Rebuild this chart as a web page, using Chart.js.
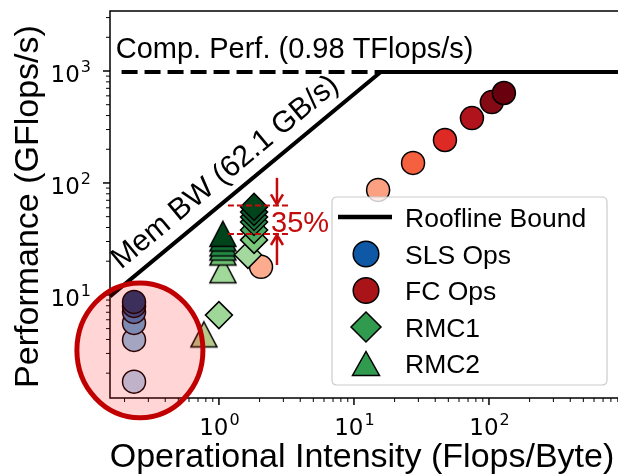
<!DOCTYPE html>
<html><head><meta charset="utf-8">
<style>html,body{margin:0;padding:0;background:#fff;overflow:hidden}#wrap{width:618px;height:474px;position:relative}canvas{display:block}</style>
<script src="https://cdn.jsdelivr.net/npm/chart.js@4.4.1/dist/chart.umd.min.js"></script>
</head><body><div id="wrap"><canvas id="c" width="618" height="474"></canvas></div>
<script>
// ---- axis ranges & tick labels ----
const X_MIN = 0.156, X_MAX = 903;
const Y_MIN = 1.2, Y_MAX = 3435;
const xTickExps = [0, 1, 2];
const yTickExps = [1, 2, 3];

// ---- roofline ----
const roofX = [0.156, 15.78, 903];
const roofY = [9.69, 980, 980];
const compX = [0.19, 15.78];
const compY = [980, 980];

// ---- SLS Ops (circles) ----
const slsX = [0.235, 0.235, 0.235, 0.235, 0.235, 0.235];
const slsY = [1.68, 3.96, 5.62, 7.05, 7.98, 8.66];
const slsColors = ['#b4d5f1', '#91c6e8', '#64a6d6', '#3f7fbc', '#234f8e', '#17396f'];

// ---- FC Ops (circles) ----
const fcX = [2.05, 15.1, 27.4, 47.2, 74.8, 105, 129];
const fcY = [17.8, 86.6, 151, 242, 380, 528, 636];
const fcColors = ['#fcab8f', '#fca082', '#f5603f', '#dd2a25', '#b0131b', '#840a14', '#68000d'];

// ---- RMC1 (diamonds) ----
const rmc1X = [1.0, 1.64, 1.82, 1.82, 1.82, 1.82, 1.82, 1.82];
const rmc1Y = [6.6, 22.8, 31.0, 38.0, 44.8, 49.7, 55.1, 61.1];
const rmc1Colors = ['#9fd799', '#a3d89e', '#7cc87c', '#4daa5f', '#2d8a49', '#18703a', '#0b5a2b', '#00441b'];

// ---- RMC2 (triangles) ----
const rmc2X = [0.774, 1.07, 1.07, 1.07, 1.07, 1.07, 1.07];
const rmc2Y = [4.44, 16.6, 23.9, 26.5, 28.8, 31.9, 35.1];
const rmc2Colors = ['#b7c88b', '#a1d99b', '#6fbf73', '#41ab5d', '#238b45', '#116d33', '#00441b'];

// ---- annotation (35%) ----
const gapLineX = [1.166, 3.36];
const gapUpperY = 63;
const gapLowerY = 35;
const arrowX = 2.69;
const arrowDown = [111, 63];
const arrowUp = [18.5, 35];

// ---- highlight ellipse bounds (data coords) ----
const ellX = [0.0887, 0.761];
const ellY = [0.798, 12.8];

// ---- legend ----
const legendLabels = ['Roofline Bound', 'SLS Ops', 'FC Ops', 'RMC1', 'RMC2'];
const legendColors = ['#000000', '#0f58a5', '#a91419', '#309a4f', '#309a4f'];
const legendKinds = ['line', 'circle', 'circle', 'diamond', 'triangle'];

const FONT = '"Liberation Sans", Arial, Helvetica, sans-serif';
const MATH = '"DejaVu Sans", sans-serif';
const RED = '#c40a0a';

function pts(xs, ys) { return xs.map((x, i) => ({x: x, y: ys[i]})); }

function triImg(color) {
  const c = document.createElement('canvas'); c.width = 30; c.height = 30;
  const g = c.getContext('2d');
  g.beginPath(); g.moveTo(15, 2.5); g.lineTo(28, 27.5); g.lineTo(2, 27.5); g.closePath();
  g.fillStyle = color; g.fill();
  g.lineWidth = 1.5; g.strokeStyle = '#000'; g.stroke();
  return c;
}

function drawPow(ctx, exp, x, y, align) {
  ctx.font = '23px ' + MATH; const w1 = ctx.measureText('10').width;
  ctx.font = '16px ' + MATH; const w2 = ctx.measureText(String(exp)).width;
  const x0 = align === 'center' ? x - (w1 + w2) / 2 : x - (w1 + w2);
  ctx.textAlign = 'left'; ctx.textBaseline = 'alphabetic';
  ctx.font = '23px ' + MATH; ctx.fillText('10', x0, y);
  ctx.font = '16px ' + MATH; ctx.fillText(String(exp), x0 + w1 + 1, y - 10);
}

function arrow(ctx, x, y0, y1) {
  ctx.beginPath(); ctx.moveTo(x, y0); ctx.lineTo(x, y1); ctx.stroke();
  const dir = y1 > y0 ? 1 : -1;
  ctx.beginPath();
  ctx.moveTo(x - 6, y1 - dir * 10); ctx.lineTo(x, y1); ctx.lineTo(x + 6, y1 - dir * 10);
  ctx.stroke();
}

const decor = {
  id: 'decor',
  afterDraw(chart) {
    const ctx = chart.ctx, a = chart.chartArea, xs = chart.scales.x, ys = chart.scales.y;
    ctx.save();
    // spines
    ctx.strokeStyle = '#000'; ctx.lineWidth = 1.5;
    ctx.beginPath();
    ctx.moveTo(a.right + 2, a.top); ctx.lineTo(a.left, a.top); ctx.lineTo(a.left, a.bottom); ctx.lineTo(a.right + 2, a.bottom);
    ctx.stroke();
    // ticks
    for (let d = -2; d <= 4; d++) {
      for (let m = 1; m <= 9; m++) {
        const v = m * Math.pow(10, d);
        const major = m === 1;
        if (v >= X_MIN && v <= X_MAX) {
          const p = xs.getPixelForValue(v);
          ctx.lineWidth = major ? 1.5 : 1;
          ctx.beginPath(); ctx.moveTo(p, a.bottom); ctx.lineTo(p, a.bottom + (major ? 7 : 4)); ctx.stroke();
        }
        if (v >= Y_MIN && v <= Y_MAX) {
          const p = ys.getPixelForValue(v);
          ctx.lineWidth = major ? 1.5 : 1;
          ctx.beginPath(); ctx.moveTo(a.left, p); ctx.lineTo(a.left - (major ? 7 : 4), p); ctx.stroke();
        }
      }
    }
    // tick labels
    ctx.fillStyle = '#000';
    xTickExps.forEach(e => drawPow(ctx, e, xs.getPixelForValue(Math.pow(10, e)), a.bottom + 37, 'center'));
    yTickExps.forEach(e => drawPow(ctx, e, a.left - 20, ys.getPixelForValue(Math.pow(10, e)) + 11, 'right'));
    // axis titles
    ctx.font = '34px ' + FONT; ctx.textAlign = 'center'; ctx.textBaseline = 'alphabetic';
    ctx.fillText('Operational Intensity (Flops/Byte)', 362, 467);
    ctx.save(); ctx.translate(38, (a.top + a.bottom) / 2 + 2); ctx.rotate(-Math.PI / 2);
    ctx.fillText('Performance (GFlops/s)', 0, 0); ctx.restore();
    // compute perf text
    ctx.font = '29px ' + FONT; ctx.textAlign = 'left';
    ctx.fillText('Comp. Perf. (0.98 TFlops/s)', xs.getPixelForValue(0.172), ys.getPixelForValue(1306));
    // mem bw text
    const p1x = xs.getPixelForValue(roofX[0]), p1y = ys.getPixelForValue(roofY[0]);
    const p2x = xs.getPixelForValue(roofX[1]), p2y = ys.getPixelForValue(roofY[1]);
    const ang = Math.atan2(p2y - p1y, p2x - p1x);
    ctx.save(); ctx.translate(xs.getPixelForValue(1.22), ys.getPixelForValue(109)); ctx.rotate(ang);
    ctx.textAlign = 'center'; ctx.font = '30px ' + FONT;
    ctx.fillText('Mem BW (62.1 GB/s)', 0, 0); ctx.restore();
    // 35% annotation
    ctx.fillStyle = RED; ctx.font = '29px ' + FONT; ctx.textAlign = 'left';
    ctx.fillText('35%', xs.getPixelForValue(2.43), ys.getPixelForValue(36.1));
    ctx.strokeStyle = RED; ctx.lineWidth = 2.5; ctx.lineCap = 'butt';
    const ax = xs.getPixelForValue(arrowX);
    arrow(ctx, ax, ys.getPixelForValue(arrowDown[0]), ys.getPixelForValue(arrowDown[1]) - 1);
    arrow(ctx, ax, ys.getPixelForValue(arrowUp[0]), ys.getPixelForValue(arrowUp[1]) + 1);
    // ellipse highlight
    const el = xs.getPixelForValue(ellX[0]), er = xs.getPixelForValue(ellX[1]);
    const eb = ys.getPixelForValue(ellY[0]), et = ys.getPixelForValue(ellY[1]);
    ctx.beginPath();
    ctx.ellipse((el + er) / 2, (et + eb) / 2, (er - el) / 2, (eb - et) / 2, 0, 0, Math.PI * 2);
    ctx.fillStyle = 'rgba(255,0,0,0.165)'; ctx.fill();
    ctx.strokeStyle = '#c00000'; ctx.lineWidth = 5; ctx.stroke();
    // legend
    const bx = 332, by = 197, bw = 275, bh = 188, r = 5;
    ctx.beginPath();
    ctx.moveTo(bx + r, by); ctx.lineTo(bx + bw - r, by); ctx.quadraticCurveTo(bx + bw, by, bx + bw, by + r);
    ctx.lineTo(bx + bw, by + bh - r); ctx.quadraticCurveTo(bx + bw, by + bh, bx + bw - r, by + bh);
    ctx.lineTo(bx + r, by + bh); ctx.quadraticCurveTo(bx, by + bh, bx, by + bh - r);
    ctx.lineTo(bx, by + r); ctx.quadraticCurveTo(bx, by, bx + r, by); ctx.closePath();
    ctx.fillStyle = 'rgba(255,255,255,0.8)'; ctx.fill();
    ctx.strokeStyle = '#cccccc'; ctx.lineWidth = 1.2; ctx.stroke();
    const rowY = [217, 254, 290.5, 327, 363.5];
    const mx = 366;
    legendLabels.forEach((lab, i) => {
      const y = rowY[i];
      ctx.strokeStyle = '#000'; ctx.fillStyle = legendColors[i]; ctx.lineWidth = 1.5;
      const k = legendKinds[i];
      if (k === 'line') {
        ctx.lineWidth = 4.5; ctx.beginPath(); ctx.moveTo(338, y); ctx.lineTo(392, y); ctx.stroke();
      } else if (k === 'circle') {
        ctx.beginPath(); ctx.arc(mx, y, 12.8, 0, Math.PI * 2); ctx.fill(); ctx.stroke();
      } else if (k === 'diamond') {
        ctx.beginPath(); ctx.moveTo(mx, y - 15); ctx.lineTo(mx + 15, y); ctx.lineTo(mx, y + 15); ctx.lineTo(mx - 15, y); ctx.closePath(); ctx.fill(); ctx.stroke();
      } else {
        ctx.beginPath(); ctx.moveTo(mx, y - 12); ctx.lineTo(mx + 13.5, y + 12); ctx.lineTo(mx - 13.5, y + 12); ctx.closePath(); ctx.fill(); ctx.stroke();
      }
      ctx.fillStyle = '#000'; ctx.font = '26.5px ' + FONT; ctx.textAlign = 'left'; ctx.textBaseline = 'alphabetic';
      ctx.fillText(lab, 405, y + 9.5);
    });
    ctx.restore();
  }
};

const lineDs = (xs, ysArr, color, width, dash, order) => ({
  data: pts(xs, ysArr), showLine: true, borderColor: color, borderWidth: width,
  borderDash: dash, pointRadius: 0, fill: false, order: order, tension: 0
});

new Chart(document.getElementById('c'), {
  type: 'scatter',
  data: {
    datasets: [
      lineDs(roofX, roofY, '#000', 4, [], 1),
      lineDs(compX, compY, '#000', 4, [16, 7], 1),
      lineDs(gapLineX, [gapUpperY, gapUpperY], RED, 2, [6, 3], 2),
      lineDs(gapLineX, [gapLowerY, gapLowerY], RED, 2, [6, 3], 2),
      { data: pts(slsX, slsY), pointStyle: 'circle', pointRadius: 11.5, pointBackgroundColor: slsColors,
        pointBorderColor: '#000', pointBorderWidth: 1.5, order: 6 },
      { data: pts(fcX, fcY), pointStyle: 'circle', pointRadius: 11.5, pointBackgroundColor: fcColors,
        pointBorderColor: '#000', pointBorderWidth: 1.5, order: 5 },
      { data: pts(rmc2X, rmc2Y), pointStyle: rmc2Colors.map(triImg), pointRadius: 13,
        order: 4 },
      { data: pts(rmc1X, rmc1Y), pointStyle: 'rectRot', pointRadius: 13.5, pointBackgroundColor: rmc1Colors,
        pointBorderColor: '#000', pointBorderWidth: 1.5, order: 3 }
    ]
  },
  options: {
    responsive: false, animation: false, devicePixelRatio: 1, events: [],
    layout: { autoPadding: false, padding: { left: 110, top: 11, right: 0, bottom: 76 } },
    plugins: { legend: { display: false }, tooltip: { enabled: false } },
    scales: {
      x: { type: 'logarithmic', min: X_MIN, max: X_MAX, ticks: { display: false },
           grid: { display: false, drawTicks: false }, border: { display: false },
           afterFit(s) { s.height = 0; } },
      y: { type: 'logarithmic', min: Y_MIN, max: Y_MAX, ticks: { display: false },
           grid: { display: false, drawTicks: false }, border: { display: false },
           afterFit(s) { s.width = 0; } }
    }
  },
  plugins: [decor]
});
</script></body></html>
